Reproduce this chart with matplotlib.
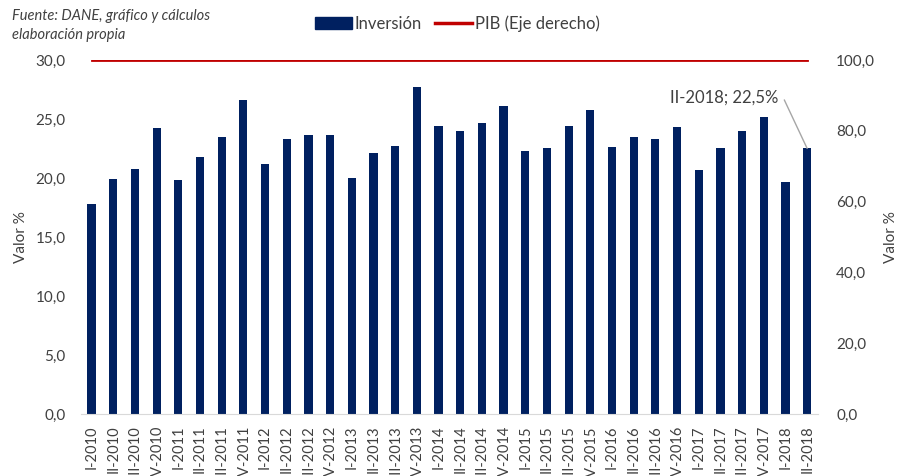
import matplotlib
matplotlib.use("Agg")
import matplotlib.pyplot as plt
from matplotlib.ticker import FuncFormatter, MultipleLocator
from matplotlib.patches import Patch
from matplotlib.lines import Line2D

plt.rcParams['font.family'] = ['Lato', 'DejaVu Sans']

categories = [
    "I-2010", "II-2010", "III-2010", "IV-2010",
    "I-2011", "II-2011", "III-2011", "IV-2011",
    "I-2012", "II-2012", "III-2012", "IV-2012",
    "I-2013", "II-2013", "III-2013", "IV-2013",
    "I-2014", "II-2014", "III-2014", "IV-2014",
    "I-2015", "II-2015", "III-2015", "IV-2015",
    "I-2016", "II-2016", "III-2016", "IV-2016",
    "I-2017", "II-2017", "III-2017", "IV-2017",
    "I-2018", "II-2018",
]
inversion = [
    17.8, 19.9, 20.8, 24.2,
    19.8, 21.8, 23.5, 26.6,
    21.2, 23.3, 23.6, 23.6,
    20.0, 22.1, 22.7, 27.7,
    24.4, 24.0, 24.7, 26.1,
    22.3, 22.5, 24.4, 25.8,
    22.6, 23.5, 23.3, 24.3,
    20.7, 22.5, 24.0, 25.2,
    19.7, 22.5,
]
pib = [100.0] * len(categories)

annot_label = "II-2018; 22,5%"

BAR = '#002060'
RED = '#C00000'
TXT = '#404040'

fig = plt.figure(figsize=(8.99, 4.76), dpi=100)
ax = fig.add_axes([0.0898, 0.1303, 0.8201, 0.7437])
ax2 = ax.twinx()

x = list(range(len(categories)))
ax.bar(x, inversion, width=0.38, color=BAR, zorder=2)
ax2.plot(x, pib, color=RED, lw=2.0, zorder=3)

ax.set_xlim(-0.5, len(categories) - 0.5)
ax.set_ylim(0, 30)
ax2.set_ylim(0, 100)
ax.yaxis.set_major_locator(MultipleLocator(5))
ax2.yaxis.set_major_locator(MultipleLocator(20))
fmt = FuncFormatter(lambda v, p: f"{v:.1f}".replace('.', ','))
ax.yaxis.set_major_formatter(fmt)
ax2.yaxis.set_major_formatter(fmt)

ax.set_xticks(x)
ax.set_xticklabels(categories, rotation=90, va='top', ha='center',
                   fontsize=10.5, color=TXT)
ax.tick_params(axis='x', length=0, pad=8)
ax.tick_params(axis='y', length=0, pad=11, labelsize=11, labelcolor=TXT)
ax2.tick_params(axis='y', length=0, pad=13, labelsize=11, labelcolor=TXT)

for a in (ax, ax2):
    for s in ('top', 'left', 'right'):
        a.spines[s].set_visible(False)
ax.spines['bottom'].set_color('#D9D9D9')
ax2.spines['bottom'].set_visible(False)

ax.set_ylabel("Valor %", fontsize=11, color=TXT)
ax.yaxis.set_label_coords(-0.071, 0.5)
ax2.set_ylabel("Valor %", fontsize=11, color=TXT, rotation=90)
ax2.yaxis.set_label_coords(1.089, 0.5)

# annotation on last bar
ax.annotate(annot_label, xy=(x[-1], inversion[-1]), xytext=(-29, 51),
            textcoords='offset pixels', ha='right', va='center',
            fontsize=12, color=TXT,
            arrowprops=dict(arrowstyle='-', color='#A6A6A6', lw=1,
                            relpos=(1, 0.5), shrinkA=3, shrinkB=0,
                            connectionstyle='arc,angleA=0,armA=5,angleB=0,armB=0,rad=0'))

# legend
handles = [Patch(facecolor=BAR, edgecolor=BAR),
           Line2D([0], [0], color=RED, lw=2.5)]
leg = fig.legend(handles, ["Inversión", "PIB (Eje derecho)"],
                 loc='center', bbox_to_anchor=(0.509, 0.950), ncol=2,
                 frameon=False, fontsize=12, handlelength=2.2,
                 handletextpad=0.2, columnspacing=0.8)
for t in leg.get_texts():
    t.set_color(TXT)

fig.text(0.013, 0.966, "Fuente: DANE, gráfico y cálculos", fontsize=10.5,
         style='italic', color=TXT, ha='left', va='center')
fig.text(0.013, 0.926, "elaboración propia", fontsize=10.5,
         style='italic', color=TXT, ha='left', va='center')

fig.savefig("out.png", dpi=100)
